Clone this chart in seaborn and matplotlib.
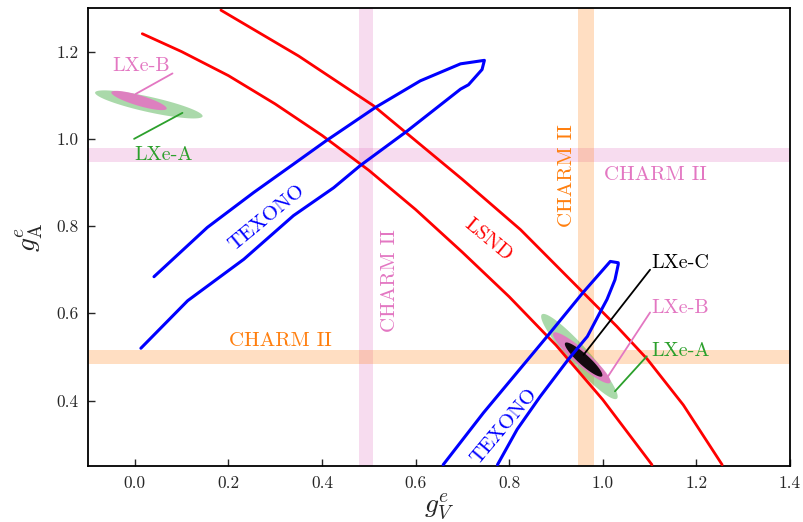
import numpy as np
import pandas as pd
import matplotlib
matplotlib.use("Agg")
import matplotlib.pyplot as plt
import seaborn as sns

# ---------------- data ----------------
# LSND allowed band (two boundary curves)
lsnd_in_gV = [0.016, 0.10, 0.20, 0.30, 0.40, 0.50, 0.60, 0.70, 0.80, 0.90, 1.00, 1.105]
lsnd_in_gA = [1.241, 1.200, 1.145, 1.080, 1.008, 0.928, 0.838, 0.740, 0.638, 0.527, 0.402, 0.253]
lsnd_out_gV = [0.184, 0.35, 0.510, 0.70, 0.824, 0.952, 1.03, 1.095, 1.172, 1.255]
lsnd_out_gA = [1.295, 1.190, 1.076, 0.907, 0.792, 0.654, 0.570, 0.495, 0.390, 0.253]

# TEXONO contours
tex1_gV = [0.041, 0.155, 0.254, 0.339, 0.408, 0.514, 0.610, 0.696, 0.747,
           0.742, 0.713, 0.696, 0.582, 0.482, 0.425, 0.339, 0.233, 0.113, 0.013]
tex1_gA = [0.684, 0.797, 0.877, 0.942, 0.995, 1.072, 1.133, 1.172, 1.180,
           1.159, 1.124, 1.114, 1.018, 0.939, 0.888, 0.824, 0.724, 0.629, 0.520]
tex2_gV = [0.659, 0.745, 0.881, 0.958, 1.016, 1.033, 1.033, 1.026, 1.009,
           0.994, 0.967, 0.926, 0.866, 0.817, 0.775]
tex2_gA = [0.253, 0.372, 0.547, 0.648, 0.719, 0.716, 0.712, 0.677, 0.632,
           0.602, 0.547, 0.494, 0.409, 0.334, 0.253]

# CHARM II bands
charm_gV_band = [0.48, 0.51]      # pink vertical
charm_gA_band = [0.948, 0.980]    # pink horizontal
charm2_gV_band = [0.947, 0.982]   # orange vertical
charm2_gA_band = [0.483, 0.517]   # orange horizontal

# LXe ellipses: name, center gV, center gA, semi-major, semi-minor, angle(deg)
ell_names = ["LXe-A", "LXe-B", "LXe-A", "LXe-B", "LXe-C"]
ell_cx = [0.030, 0.009, 0.950, 0.955, 0.959]
ell_cy = [1.079, 1.088, 0.501, 0.498, 0.494]
ell_a = [0.118, 0.062, 0.1255, 0.0833, 0.0548]
ell_b = [0.0175, 0.012, 0.022, 0.0165, 0.012]
ell_ang = [-13.4, -17.8, -50.4, -43.5, -44.3]

# annotations: text, text pos, line start, line end
ann_text = ["LXe-B", "LXe-A", "LXe-C", "LXe-B", "LXe-A"]
ann_tx = [0.013, 0.062, 1.103, 1.103, 1.103]
ann_ty = [1.166, 0.962, 0.716, 0.6125, 0.513]
ann_x0 = [0.0805, -0.0015, 1.101, 1.101, 1.094]
ann_y0 = [1.150, 1.000, 0.700, 0.602, 0.5015]
ann_x1 = [0.002, 0.1018, 0.959, 1.0115, 1.026]
ann_y1 = [1.103, 1.0596, 0.505, 0.456, 0.4213]

xticks = [0.0, 0.2, 0.4, 0.6, 0.8, 1.0, 1.2, 1.4]
yticks = [0.4, 0.6, 0.8, 1.0, 1.2]

# ---------------- style ----------------
sns.set_style("ticks")
plt.rcParams["font.family"] = ["cmr10", "DejaVu Serif"]
plt.rcParams["mathtext.fontset"] = "cm"
plt.rcParams["axes.formatter.use_mathtext"] = True

fig = plt.figure(figsize=(8.04, 5.22), dpi=100)
ax = fig.add_axes([88 / 804, 1 - 466 / 522, (790 - 88) / 804, (466 - 8) / 522])

pink = "#e377c2"
orange = "#ff7f0e"
green = "#2ca02c"

# bands
ax.axvspan(*charm_gV_band, color=pink, alpha=0.25, lw=0, zorder=0)
ax.axhspan(*charm_gA_band, color=pink, alpha=0.25, lw=0, zorder=0)
ax.axvspan(*charm2_gV_band, color=orange, alpha=0.25, lw=0, zorder=0)
ax.axhspan(*charm2_gA_band, color=orange, alpha=0.25, lw=0, zorder=0)

# ellipses
ell_colors = {"LXe-A": (green, 0.4), "LXe-B": (pink, 0.9), "LXe-C": ("black", 0.92)}
t = np.linspace(0, 2 * np.pi, 200)
for n, cx, cy, a, b, ang in zip(ell_names, ell_cx, ell_cy, ell_a, ell_b, ell_ang):
    th = np.deg2rad(ang)
    ex = cx + a * np.cos(t) * np.cos(th) - b * np.sin(t) * np.sin(th)
    ey = cy + a * np.cos(t) * np.sin(th) + b * np.sin(t) * np.cos(th)
    c, al = ell_colors[n]
    ax.fill(ex, ey, color=c, alpha=al, lw=0, zorder=2)

# curves
def draw(xs, ys, color, lw):
    df = pd.DataFrame({"gV": xs, "gA": ys})
    sns.lineplot(data=df, x="gV", y="gA", sort=False, estimator=None,
                 color=color, lw=lw, ax=ax, zorder=3)

draw(lsnd_in_gV, lsnd_in_gA, "red", 2.0)
draw(lsnd_out_gV, lsnd_out_gA, "red", 2.0)
draw(tex1_gV, tex1_gA, "blue", 2.2)
draw(tex2_gV, tex2_gA, "blue", 2.2)

# annotation lines and texts
ann_colors = {"LXe-A": green, "LXe-B": pink, "LXe-C": "black"}
for i, (txt, tx, ty) in enumerate(zip(ann_text, ann_tx, ann_ty)):
    col = ann_colors[txt]
    ax.plot([ann_x0[i], ann_x1[i]], [ann_y0[i], ann_y1[i]], color=col, lw=1.3, zorder=4)
    ha = "center" if i < 2 else "left"
    ax.text(tx, ty, txt, color=col, fontsize=14.5, ha=ha, va="center", zorder=5)

fs = 15
ax.text(0.3116, 0.537, "CHARM II", color=orange, fontsize=fs, ha="center", va="center")
ax.text(0.546, 0.676, "CHARM II", color=pink, fontsize=fs, ha="center", va="center", rotation=90)
ax.text(0.923, 0.916, "CHARM II", color=orange, fontsize=fs, ha="center", va="center", rotation=90)
ax.text(1.113, 0.916, "CHARM II", color=pink, fontsize=fs, ha="center", va="center")
ax.text(0.283, 0.819, "TEXONO", color="blue", fontsize=15, ha="center", va="center",
        rotation=39.5, rotation_mode="anchor")
ax.text(0.790, 0.340, "TEXONO", color="blue", fontsize=15, ha="center", va="center",
        rotation=50, rotation_mode="anchor")
ax.text(0.755, 0.768, "LSND", color="red", fontsize=15, ha="center", va="center",
        rotation=-39.5, rotation_mode="anchor")

ax.set_xlim(-0.1, 1.4)
ax.set_ylim(0.25, 1.3)
ax.set_xticks(xticks)
ax.set_yticks(yticks)
ax.set_xticklabels([f"{v:.1f}" for v in xticks])
ax.set_yticklabels([f"{v:.1f}" for v in yticks])
ax.tick_params(direction="in", length=5, width=1.0, labelsize=12.5, pad=7)
for s in ax.spines.values():
    s.set_linewidth(1.3)
    s.set_color("black")
ax.set_xlabel(r"$g_V^e$", fontsize=20, labelpad=0)
ax.set_ylabel(r"$g_\mathrm{A}^e$", fontsize=20, labelpad=8)

fig.savefig("out.png", dpi=100)
